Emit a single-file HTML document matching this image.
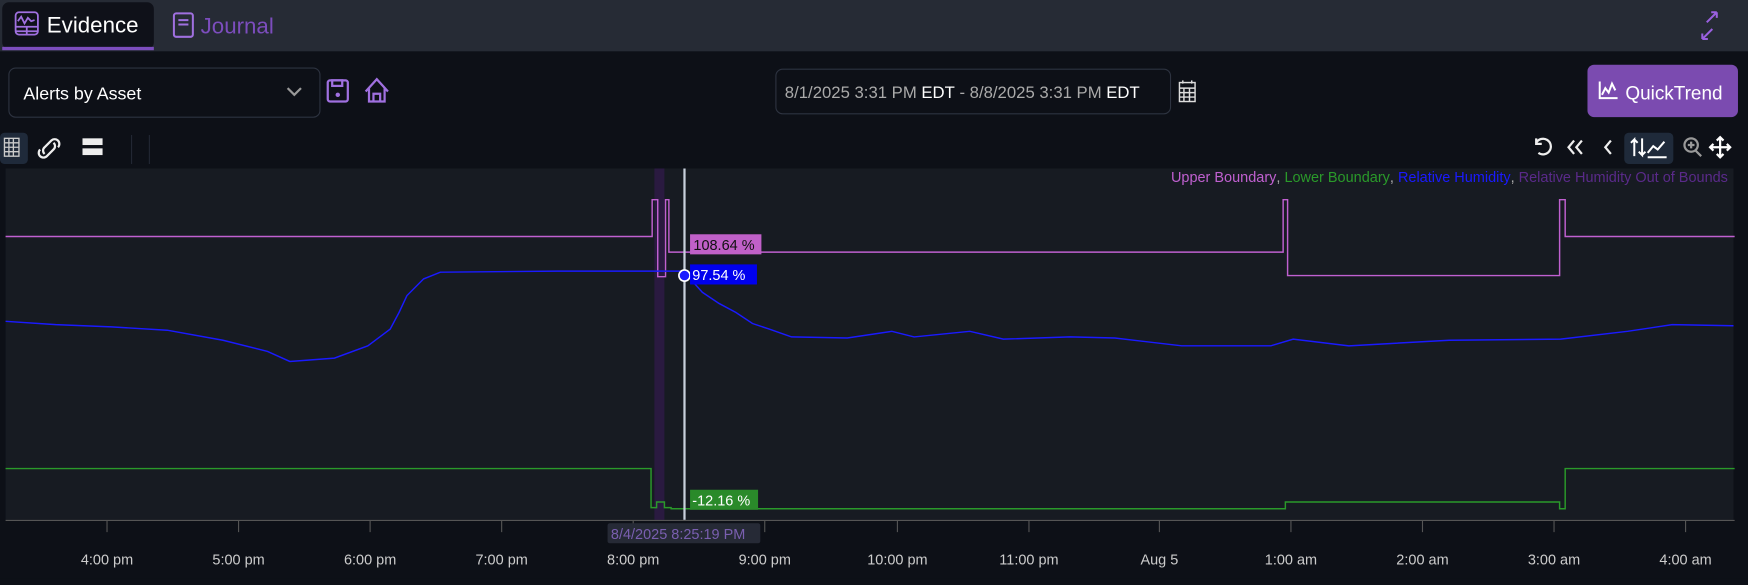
<!DOCTYPE html>
<html><head><meta charset="utf-8"><style>
html,body{margin:0;padding:0;background:#0d1017;overflow:hidden;width:1748px;height:579px}
#w{position:absolute;left:0;top:0;width:1568px;height:519px;transform-origin:0 0;transform:scale(1.1148,1.1156);font-family:"Liberation Sans",sans-serif}
</style></head><body><div id="w">
<svg width="1568" height="519" viewBox="0 0 1568 519" xmlns="http://www.w3.org/2000/svg" font-family="Liberation Sans, sans-serif">
<rect width="1568" height="519" fill="#0d1017"/>
<rect width="1568" height="46" fill="#262b35"/>
<rect x="2" y="2" width="136" height="42" rx="6" fill="#0f1119"/>
<rect x="2" y="42" width="136" height="3" fill="#7c4dbd"/>
<g stroke="#a070e0" stroke-width="1.6" fill="none"><rect x="14" y="11" width="20" height="20" rx="3"/><path d="M14 24h20M14 28h20M24 24v7M16 19l3-4 3 6 3-5 3 3 3-1"/></g>
<text x="42" y="29" font-size="20" fill="#fff">Evidence</text>
<g stroke="#a070e0" stroke-width="1.8" fill="none"><rect x="156" y="12" width="17" height="21" rx="2"/><path d="M160 18h9M160 22h9"/></g>
<text x="180" y="30" font-size="20" fill="#7c4dbd">Journal</text>
<g stroke="#9a60e0" stroke-width="1.8" fill="none"><path d="M1540 12l-9 9M1540 12h-5M1540 12v5M1536 27l-9 9M1527 36h5M1527 36v-5" transform="translate(0,-1)"/></g>
<rect x="8" y="61" width="279" height="44" rx="6" fill="#0d1017" stroke="#2d3340"/>
<text x="21" y="89" font-size="16" fill="#fff">Alerts by Asset</text>
<path d="M258 79l6 6 6-6" stroke="#999" stroke-width="2" fill="none"/>
<g stroke="#a070e0" stroke-width="2" fill="none"><rect x="294" y="72" width="18" height="19" rx="2"/><rect x="298" y="72" width="9" height="5"/></g><circle cx="303" cy="85" r="2" fill="#a070e0"/>
<path d="M328 82l10-11 10 11M331 79v12h14v-12M335 91v-7h6v7" stroke="#a070e0" stroke-width="2" fill="none"/>
<rect x="696" y="62" width="354" height="40" rx="6" fill="#0d1017" stroke="#2d3340"/>
<text x="704" y="88" font-size="15" fill="#aaa">8/1/2025 3:31 PM <tspan fill="#fff">EDT</tspan>  -  8/8/2025 3:31 PM <tspan fill="#fff">EDT</tspan></text>
<g stroke="#ddd" stroke-width="1.3" fill="none"><rect x="1058" y="74" width="14" height="17"/><path d="M1058 79h14M1058 83h14M1058 87h14M1062 79v12M1067 79v12M1061 72v3M1069 72v3"/></g>
<rect x="1424" y="58" width="135" height="47" rx="6" fill="#7b4bb0"/>
<path d="M1435 73v15h16M1437 85l3-6 3 4 3-8 3 6" stroke="#fff" stroke-width="1.8" fill="none"/>
<text x="1458" y="89" font-size="17" fill="#fff">QuickTrend</text>
<rect x="0" y="119" width="25" height="28" rx="4" fill="#1f2a3a"/>
<g stroke="#ccc" stroke-width="1.2" fill="none"><rect x="4" y="124" width="13" height="16"/><path d="M4 128h13M4 132h13M4 136h13M8 124v16M12 124v16"/></g>
<path d="M40 138a4 4 0 0 1 0-6l6-6a4 4 0 0 1 6 6M46 126M48 128a4 4 0 0 1 0 6l-6 6a4 4 0 0 1-6-6" stroke="#eee" stroke-width="2" fill="none"/>
<rect x="74" y="124" width="18" height="6" fill="#eee"/><rect x="74" y="133" width="18" height="6" fill="#eee"/>
<path d="M118 121v26M134 121v26" stroke="#222733"/>
<g stroke="#eee" stroke-width="2" fill="none"><path d="M1378 128a7 7 0 1 1 2 9M1378 124v5h5"/><path d="M1412 126l-5 6 5 6M1419 126l-5 6 5 6M1445 126l-5 6 5 6"/></g>
<rect x="1457" y="119" width="44" height="28" rx="4" fill="#1f2a3a"/>
<path d="M1466 140v-15l-3 3M1466 125l3 3M1473 124v15l-3-3M1473 139l3-3M1478 137l5-6 4 3 6-7M1478 141h17" stroke="#fff" stroke-width="1.8" fill="none"/>
<circle cx="1517" cy="130" r="6" stroke="#999" stroke-width="2" fill="none"/><path d="M1521 135l5 5M1514 130h6M1517 127v6" stroke="#999" stroke-width="2"/>
<path d="M1552 132h-18M1543 123v18M1540 126l3-3 3 3M1540 138l3 3 3-3M1537 129l-3 3 3 3M1549 129l3 3-3 3" stroke="#fff" stroke-width="2" fill="none"/>
<rect x="5" y="151" width="1550" height="315" fill="#171b22"/>
<rect x="587" y="151" width="9" height="315" fill="#2a1a40"/>
<text x="1550" y="163" font-size="13" text-anchor="end"><tspan fill="#c060d0">Upper Boundary</tspan><tspan fill="#aaa">, </tspan><tspan fill="#2a9a2a">Lower Boundary</tspan><tspan fill="#aaa">, </tspan><tspan fill="#1a1aff">Relative Humidity</tspan><tspan fill="#aaa">, </tspan><tspan fill="#5a2a8a">Relative Humidity Out of Bounds</tspan></text>
<path d="M5 212H585V179H590V248H597V179H600V226H1151V179H1155V247H1399V179H1404V212H1556" stroke="#c060d0" stroke-width="1.3" fill="none"/>
<path d="M5 420H584V455H589V450H596V455H602V456H1153V450H1399V456H1404V420H1556" stroke="#2a9a2a" stroke-width="1.3" fill="none"/>
<path d="M5 288L50 291L100 293L150 296L200 305L240 315L260 324L300 321L330 310L350 295L358 280L365 265L380 250L395 244L500 243L613 243L630 262L645 272L660 280L675 290L690 295L710 302L760 303L800 297L820 302L870 297L900 304L960 302L1000 303L1060 310L1140 310L1160 304L1210 310L1300 305L1400 304L1460 297L1500 291L1555 292" stroke="#1a1aff" stroke-width="1.3" fill="none"/>
<path d="M614 151V466" stroke="#c8d0dc" stroke-width="2"/>
<circle cx="614" cy="247" r="5" fill="#1a1aff" stroke="#fff" stroke-width="1.5"/>
<rect x="619" y="210" width="64" height="18" fill="#c060c8"/><text x="622" y="224" font-size="13" fill="#111">108.64 %</text>
<rect x="619" y="237" width="60" height="18" fill="#0000ee"/><text x="621" y="251" font-size="13" fill="#fff">97.54 %</text>
<rect x="619" y="439" width="61" height="18" fill="#2a8a2a"/><text x="621" y="453" font-size="13" fill="#fff">-12.16 %</text>
<path d="M5 466.5H1556" stroke="#555"/>
<g stroke="#555"><path d="M96 467v10M214 467v10M332 467v10M450 467v10M568 467v10M686 467v10M805 467v10M923 467v10M1040 467v10M1158 467v10M1276 467v10M1394 467v10M1512 467v10"/></g>
<rect x="545" y="469" width="137" height="18" rx="2" fill="#262a36"/>
<text x="548" y="483" font-size="13" fill="#7a5fb0">8/4/2025 8:25:19 PM</text>
<g font-size="13" fill="#ccc" text-anchor="middle"><text x="96" y="506">4:00 pm</text><text x="214" y="506">5:00 pm</text><text x="332" y="506">6:00 pm</text><text x="450" y="506">7:00 pm</text><text x="568" y="506">8:00 pm</text><text x="686" y="506">9:00 pm</text><text x="805" y="506">10:00 pm</text><text x="923" y="506">11:00 pm</text><text x="1040" y="506">Aug 5</text><text x="1158" y="506">1:00 am</text><text x="1276" y="506">2:00 am</text><text x="1394" y="506">3:00 am</text><text x="1512" y="506">4:00 am</text></g>
</svg></div></body></html>
